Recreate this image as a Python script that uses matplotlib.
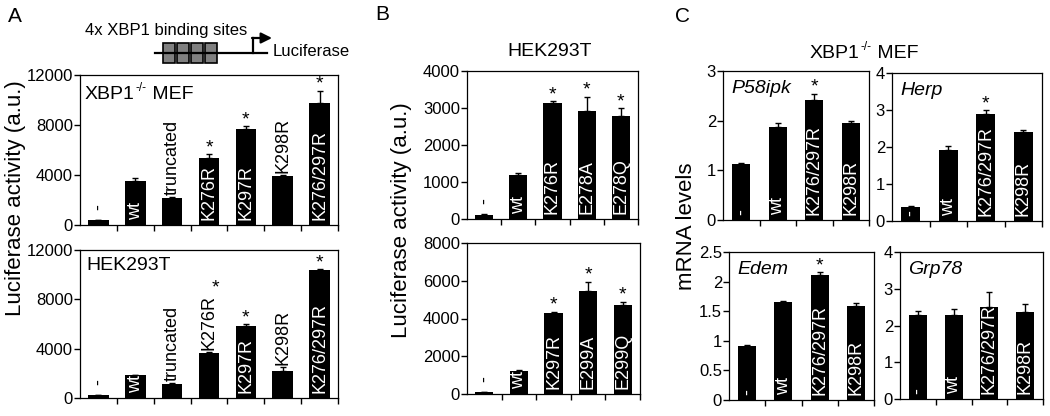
import matplotlib
matplotlib.use('Agg')
import matplotlib.pyplot as plt
import numpy as np
from matplotlib.patches import Rectangle

plt.rcParams['font.family'] = ['Liberation Sans', 'DejaVu Sans']

# ---- data ----
a_labels = ['-', 'wt', 'truncated', 'K276R', 'K297R', 'K298R', 'K276/297R']
a_mef = [370, 3540, 2130, 5330, 7700, 3920, 9760]
a_mef_err = [40, 220, 120, 320, 200, 80, 980]
a_mef_star = [0, 0, 0, 1, 1, 0, 1]
a_hek = [210, 1830, 1150, 3660, 5870, 2150, 10360]
a_hek_err = [30, 60, 100, 40, 130, 330, 100]
a_hek_star = [0, 0, 0, 1, 1, 0, 1]

b1_labels = ['-', 'wt', 'K276R', 'E278A', 'E278Q']
b1_vals = [110, 1195, 3130, 2920, 2785]
b1_err = [20, 40, 60, 380, 205]
b1_star = [0, 0, 1, 1, 1]
b2_labels = ['-', 'wt', 'K297R', 'E299A', 'E299Q']
b2_vals = [100, 1216, 4300, 5460, 4740]
b2_err = [20, 40, 50, 480, 140]
b2_star = [0, 0, 1, 1, 1]

c_labels = ['-', 'wt', 'K276/297R', 'K298R']
p58ipk = [1.12, 1.87, 2.42, 1.96]
p58ipk_err = [0.02, 0.08, 0.12, 0.04]
herp = [0.38, 1.93, 2.90, 2.40]
herp_err = [0.02, 0.09, 0.09, 0.05]
edem = [0.915, 1.65, 2.11, 1.585]
edem_err = [0.02, 0.03, 0.05, 0.055]
grp78 = [2.28, 2.28, 2.50, 2.38]
grp78_err = [0.12, 0.17, 0.40, 0.20]
c_star = [0, 0, 1, 0]
grp78_star = [0, 0, 0, 0]

W, H = 1050, 416
fig = plt.figure(figsize=(W / 100, H / 100), dpi=100)

# overlay in pixel coords for figure-level text and the reporter drawing
ov = fig.add_axes([0, 0, 1, 1], zorder=-1)
ov.set_xlim(0, W)
ov.set_ylim(H, 0)
ov.axis('off')


def rect(l, t, r, b):
    return [l / W, 1 - b / H, (r - l) / W, (b - t) / H]


def xbp_label(ax, xy, xycoords, xytext, fs):
    # XBP1 with small -/- superscript, then MEF
    t1 = ax.annotate('XBP1', xy=xy, xycoords=xycoords, xytext=xytext,
                     textcoords='offset pixels', fontsize=fs, ha='left', va='bottom')
    t2 = ax.annotate('-/-', xy=(1, 0.5), xycoords=t1, xytext=(1, 0),
                     textcoords='offset pixels', fontsize=fs * 0.6, ha='left', va='bottom')
    ax.annotate(' MEF', xy=(1, 0), xycoords=(t2, t1), fontsize=fs, ha='left', va='bottom')


def panel(box, labels, vals, errs, stars, ymax, yticks, outside, width, fmt=None):
    ax = fig.add_axes(rect(*box))
    x = np.arange(len(vals))
    ax.bar(x, vals, width=width, color='black', zorder=2)
    ax.errorbar(x, vals, yerr=[np.zeros(len(errs)), errs], fmt='none',
                ecolor='black', elinewidth=1, capsize=2, capthick=1, zorder=1)
    ax.set_xlim(-0.5, len(vals) - 0.5)
    ax.set_ylim(0, ymax)
    ax.set_yticks(yticks)
    if fmt:
        ax.set_yticklabels(fmt)
    ax.set_xticks(x + 0.5)
    ax.set_xticklabels([])
    ax.tick_params(direction='out', length=4, width=1, labelsize=12, pad=1)
    for s in ax.spines.values():
        s.set_linewidth(0.9)
    for i, lab in enumerate(labels):
        if i in outside:
            off = 10 if lab == '-' else 2
            t = ax.annotate(lab, xy=(i, vals[i] + errs[i]), xytext=(0, off),
                            textcoords='offset pixels', rotation=90, ha='center',
                            va='bottom', fontsize=13, color='black')
        else:
            t = ax.annotate(lab, xy=(i, 0), xytext=(0, 5), textcoords='offset pixels',
                            rotation=90, ha='center', va='bottom', fontsize=13,
                            color='white', zorder=3)
        if stars[i]:
            if i in outside:
                ax.annotate('*', xy=(0.5, 1), xycoords=t, xytext=(6, -1),
                            textcoords='offset pixels', ha='center', va='bottom', fontsize=14)
            else:
                ax.annotate('*', xy=(i, vals[i] + errs[i]), xytext=(0, -2),
                            textcoords='offset pixels', ha='center', va='bottom', fontsize=14)
    return ax


# panel A
ax = panel((80, 75, 338, 225), a_labels, a_mef, a_mef_err, a_mef_star, 12000,
           [0, 4000, 8000, 12000], {0, 2, 5}, 0.56)
xbp_label(ax, (0, 1), 'axes fraction', (5, -28), 14)
ax = panel((80, 250, 338, 398), a_labels, a_hek, a_hek_err, a_hek_star, 12000,
           [0, 4000, 8000, 12000], {0, 2, 3, 5}, 0.56)
ax.annotate('HEK293T', xy=(0, 1), xycoords='axes fraction', xytext=(6, -24),
            textcoords='offset pixels', fontsize=14, ha='left', va='bottom')

# panel B
panel((467, 71, 638, 219), b1_labels, b1_vals, b1_err, b1_star, 4000,
      [0, 1000, 2000, 3000, 4000], {0}, 0.53)
panel((467, 243, 640, 394), b2_labels, b2_vals, b2_err, b2_star, 8000,
      [0, 2000, 4000, 6000, 8000], {0}, 0.53)

# panel C
genes = [((723, 71, 869, 220), p58ipk, p58ipk_err, c_star, 3, [0, 1, 2, 3], None, 'P58ipk'),
         ((892, 73, 1042, 221), herp, herp_err, c_star, 4, [0, 1, 2, 3, 4], None, 'Herp'),
         ((729, 252, 874, 400), edem, edem_err, c_star, 2.5, [0, 0.5, 1, 1.5, 2, 2.5],
          ['0', '0.5', '1', '1.5', '2', '2.5'], 'Edem'),
         ((900, 252, 1043, 399), grp78, grp78_err, grp78_star, 4, [0, 1, 2, 3, 4], None, 'Grp78')]
for box, v, e, st, ymax, yt, fmt, name in genes:
    ax = panel(box, c_labels, v, e, st, ymax, yt, set(), 0.5, fmt)
    ax.annotate(name, xy=(0, 1), xycoords='axes fraction', xytext=(8, -26),
                textcoords='offset pixels', fontsize=14, style='italic',
                ha='left', va='bottom')

# figure-level text
ov.text(15, 17, 'A', fontsize=15, ha='center', va='center')
ov.text(382, 15, 'B', fontsize=15, ha='center', va='center')
ov.text(682, 17, 'C', fontsize=15, ha='center', va='center')
ov.text(16, 198, 'Luciferase activity (a.u.)', fontsize=16,
        rotation=90, ha='center', va='center')
ov.text(401, 220, 'Luciferase activity (a.u.)', fontsize=16,
        rotation=90, ha='center', va='center')
ov.text(686, 226, 'mRNA levels', fontsize=16,
        rotation=90, ha='center', va='center')
ov.text(550, 52, 'HEK293T', fontsize=14, ha='center', va='center')
xbp_label(ov, (810, 62), 'data', (0, 0), 14)

# reporter construct drawing
ov.plot([155, 267], [53, 53], color='black', lw=1.6)
for bx in [163, 177, 191, 205]:
    ov.add_patch(Rectangle((bx, 43), 12, 20, facecolor='#808080', edgecolor='black', lw=1.2))
ov.plot([253, 253], [53, 38], color='black', lw=1.6)
ov.annotate('', xy=(272, 38), xytext=(252, 38),
            arrowprops=dict(arrowstyle='-|>', lw=1.6, color='black', mutation_scale=16,
                            shrinkA=0, shrinkB=0))
ov.text(85, 31, '4x XBP1 binding sites', fontsize=12, ha='left', va='center')
ov.text(273, 51, 'Luciferase', fontsize=12, ha='left', va='center')

fig.savefig('out.png', dpi=100)
